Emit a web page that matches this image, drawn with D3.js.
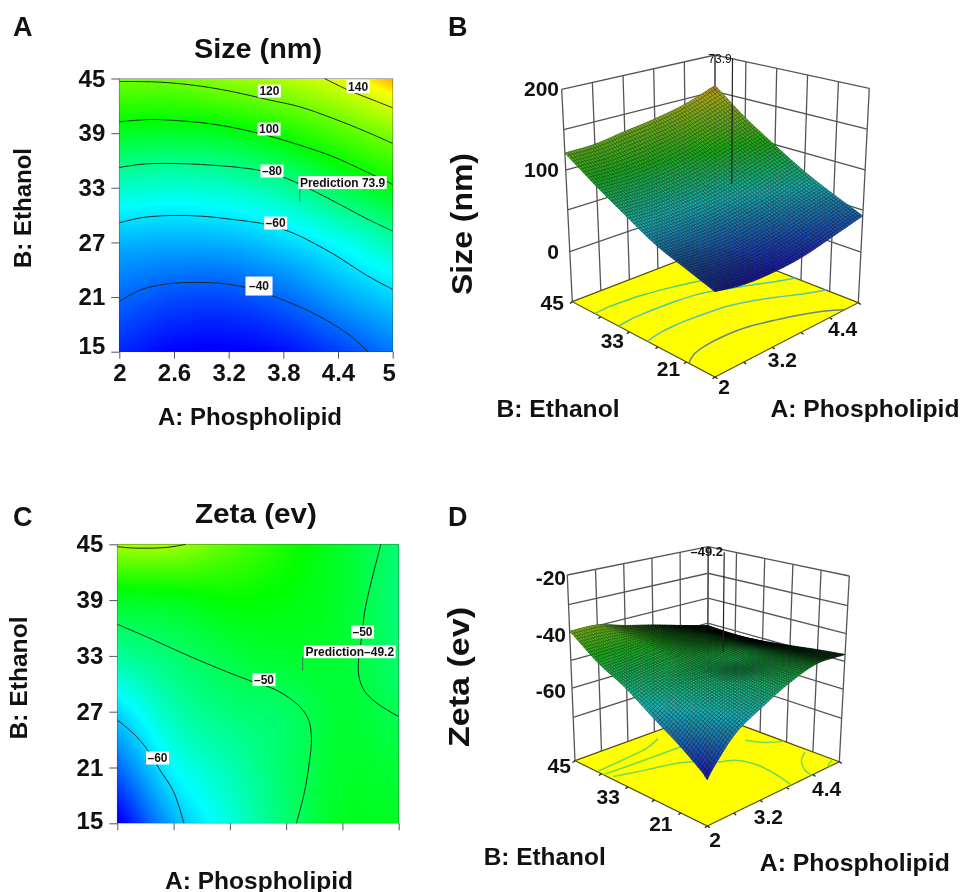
<!DOCTYPE html>
<html><head><meta charset="utf-8">
<style>
html,body{margin:0;padding:0;background:#fff;overflow:hidden}
#wrap{position:relative;width:961px;height:892px}
canvas,svg{position:absolute;left:0;top:0}
text{font-family:"Liberation Sans",Arial,sans-serif;fill:#111}
</style>
<script src="https://cdn.jsdelivr.net/npm/d3@7"></script>
</head><body><div id="wrap"><canvas id="heat" width="961" height="892"></canvas><svg id="chart" width="961" height="892"></svg></div>
<script>
// ---------- data ----------
const phospholipidTicks = [2, 2.6, 3.2, 3.8, 4.4, 5];
const ethanolTicks = [15, 21, 27, 33, 39, 45];
// rows: ethanol ascending, columns: phospholipid ascending
const sizeGrid = [
  [30, 24, 23, 26, 34, 43],
  [41, 36.5, 36, 41, 50, 58],
  [53, 52, 53, 58, 66, 76],
  [72.7, 71, 73, 78.5, 89, 99],
  [95, 94, 96.5, 103.5, 114, 125],
  [121, 122, 128, 134, 143, 158]
];
const zetaGrid = [
  [-71, -61.5, -56, -51, -47.5, -47.5],
  [-65, -57.5, -54, -50.6, -48, -48.5],
  [-59.5, -54, -51.5, -50.4, -48.3, -49.8],
  [-53, -51, -49, -48, -48.3, -51],
  [-47.5, -47, -46, -46.5, -48, -51.5],
  [-39.5, -39.7, -42.5, -45, -48, -51]
];
const sizeContours = [
  {level: 40, pts: [[2,20.49],[2.227,21.77],[2.52,22.43],[2.85,22.61],[3.18,22.43],[3.47,21.84],[3.8,20.67],[4.17,19.02],[4.5,17.01],[4.73,15]]},
  {level: 60, pts: [[2,29.16],[2.26,29.74],[2.59,29.96],[2.89,29.89],[3.18,29.6],[3.6,29.01],[3.84,28.28],[3.98,27.7],[4.35,25.72],[4.71,23.41],[5,21.84]]},
  {level: 80, pts: [[2,35.23],[2.26,35.6],[2.59,35.67],[2.89,35.56],[3.25,35.3],[3.56,34.87],[3.79,34.2],[3.98,33.4],[4.35,31.54],[4.71,29.63],[5,28.24]]},
  {level: 100, pts: [[2,40.24],[2.34,40.5],[2.67,40.35],[3.03,39.99],[3.54,38.96],[3.98,37.68],[4.35,36.4],[4.71,34.76],[5,33.37]]},
  {level: 120, pts: [[2,44.67],[2.45,44.6],[2.89,44.16],[3.25,43.54],[3.62,42.7],[3.98,41.89],[4.35,40.6],[4.71,39.15],[5,37.87]]},
  {level: 140, pts: [[4.25,45],[4.53,43.65],[4.79,42.62],[5,41.78]]}
];
const zetaContours = [
  {level: -50, pts: [[2,36.4],[2.348,34.89],[2.74,33.1],[3.166,31.3],[3.45,30.2],[3.7,29.3],[3.95,27.5],[4.04,26.1],[4.07,24.1],[4.05,21.8],[4,18.58],[3.91,15]]},
  {level: -50, pts: [[4.81,45],[4.73,41.88],[4.64,37.94],[4.61,35.43],[4.57,32.2],[4.58,30.59],[4.64,29.16],[4.77,27.9],[5,26.47]]},
  {level: -60, pts: [[2,26.1],[2.17,24.68],[2.31,23.06],[2.455,20.73],[2.6,18.4],[2.71,15]]},
  {level: -40, pts: [[2,44.75],[2.17,44.6],[2.53,44.67],[2.73,45]]}
];
// the floor of the 3-D panels, as seen in the picture
const sizeFloorContours = sizeContours.filter(c => c.level <= 100);
const zetaFloorContours = [
  {pts: [[2.02,40],[2.64,40.5],[3.25,41.2],[3.66,42.75]]},
  {pts: [[2,38.6],[2.72,38.25],[3.31,38.07],[3.71,37.95]]},
  {pts: [[2.08,37.1],[2.66,35.4],[3.2,33.9],[3.43,32.5]]},
  {pts: [[3.7,29.6],[3.95,28.2],[4.04,26.1],[4.07,24.1],[4.05,21.8],[4,18.58],[3.91,15]]},
  {pts: [[4.91,21.9],[4.66,20.2],[4.43,17.1],[4.37,15]]},
  {pts: [[4.96,16.3],[4.79,15.4],[4.8,15]]},
  {pts: [[4.61,32.5],[4.78,29.25],[5,27.6]]}
];
const sizeLabels = [["120",3.647,43.62],["100",3.643,39.45],["\u201380",3.676,34.84],["\u201360",3.715,29.13],["\u201340",3.533,22.21],["140",4.62,44.11],["Prediction 73.9",4.45,33.57]];
const zetaLabels = [["\u201350",3.564,30.46],["\u201350",4.614,35.57],["Prediction\u201349.2",4.478,33.45],["\u201360",2.429,22.02]];
const sizePrediction = {a: 3.98, b: 31.46, value: 73.9, text: "73.9"};
const zetaPrediction = {a: 3.976, b: 31.38, value: -49.2, text: "\u201349.2"};
const sizeZLevels = [-50, 0, 50, 100, 150, 200];
const zetaZLevels = [-80, -70, -60, -50, -40, -30, -20];
const sizeZLabels = [200, 100, 0];
const zetaZLabels = [-20, -40, -60];
const phospholipid3DLabels = [2, 3.2, 4.4];
const ethanol3DLabels = [21, 33, 45];

// ---------- shared helpers ----------
const svg = d3.select("#chart");
const ctx = document.getElementById("heat").getContext("2d");
function cubic(p0,p1,p2,p3,t){
  return p1+0.5*t*(p2-p0+t*(2*p0-5*p1+4*p2-p3+t*(3*(p1-p2)+p3-p0)));
}
function fieldAt(grid,a,b){
  const n=grid.length-1, fx=Math.max(0,Math.min(n,(a-2)/0.6)), fy=Math.max(0,Math.min(n,(b-15)/6));
  const ix=Math.min(n-1,Math.floor(fx)), iy=Math.min(n-1,Math.floor(fy)), tx=fx-ix, ty=fy-iy;
  const at=(r,c)=>{
    const R=Math.max(0,Math.min(n,r)),C=Math.max(0,Math.min(n,c));
    let v=grid[R][C];
    if(r<0) v=2*grid[0][C]-grid[1][C];
    if(r>n) v=2*grid[n][C]-grid[n-1][C];
    if(c<0) v+=grid[R][0]-grid[R][1];
    if(c>n) v+=grid[R][n]-grid[R][n-1];
    return v;
  };
  const col=[-1,0,1,2].map(d=>cubic(at(iy+d,ix-1),at(iy+d,ix),at(iy+d,ix+1),at(iy+d,ix+2),tx));
  return cubic(col[0],col[1],col[2],col[3],ty);
}
function addText(g,str,x,y,size,o={}){
  const t=g.append("text").attr("x",x).attr("y",y).text(str)
    .attr("font-size",size).attr("font-weight",o.weight||"bold").attr("text-anchor",o.anchor||"middle");
  if(o.len) t.attr("textLength",o.len).attr("lengthAdjust","spacingAndGlyphs");
  if(o.rotate) t.attr("transform",`rotate(${o.rotate} ${x} ${y})`);
  return t;
}
const paletteColors=["#0000ff","#00ffff","#00ff00","#ffff00","#ff0000"];
function palette(stops){return d3.scaleLinear().domain(stops).range(paletteColors).clamp(true);}

// ---------- 2-D contour panels ----------
function contourPanel(c){
  const g=svg.append("g");
  const x=d3.scaleLinear().domain([2,5]).range([c.x0,c.x1]);
  const y=d3.scaleLinear().domain([15,45]).range([c.y1,c.y0]);
  const col=palette(c.stops);
  for(let py=Math.round(c.y0);py<Math.round(c.y1);py++){
    for(let px=Math.round(c.x0);px<Math.round(c.x1);px++){
      ctx.fillStyle=col(fieldAt(c.grid,x.invert(px+.5),y.invert(py+.5)));
      ctx.fillRect(px,py,1,1);
    }
  }
  const line=d3.line().x(d=>x(d[0])).y(d=>y(d[1])).curve(d3.curveCatmullRom.alpha(.5));
  g.selectAll("path.contour").data(c.contours).join("path").attr("class","contour")
    .attr("d",d=>line(d.pts)).attr("fill","none").attr("stroke","#1c2a24").attr("stroke-width",1);
  const yAxis=d3.axisLeft(y).tickValues(ethanolTicks).tickSize(8).tickPadding(6);
  const ga=g.append("g").attr("transform",`translate(${c.x0},0)`).call(yAxis);
  const xAxis=d3.axisBottom(x).tickValues(phospholipidTicks).tickSize(7).tickPadding(5)
    .tickFormat(c.xLabels?d3.format("~g"):"");
  const gb=g.append("g").attr("transform",`translate(0,${c.y1})`).call(xAxis);
  [ga,gb].forEach(s=>{s.select(".domain").remove();
    s.selectAll("line").attr("stroke","#555").attr("stroke-width",1);
    s.selectAll("text").attr("font-size",24).attr("font-weight","bold").attr("font-family",'"Liberation Sans",Arial,sans-serif').attr("fill","#111");});
  ga.selectAll("g.tick").filter(d=>d===15).select("text").attr("dy",c.dy15);
  gb.selectAll("g.tick").filter(d=>d===5).select("text").attr("dx",-4);
  g.append("rect").attr("x",c.x0).attr("y",c.y0).attr("width",c.x1-c.x0).attr("height",c.y1-c.y0)
    .attr("fill","none").attr("stroke","#2a3a2a").attr("stroke-opacity",.45).attr("stroke-width",.8);
  // prediction flag
  g.append("line").attr("x1",x(c.pred.a)).attr("x2",x(c.pred.a)).attr("y1",y(c.pred.b)).attr("y2",y(c.pred.b)-14)
    .attr("stroke","#556").attr("stroke-width",.8);
  // contour labels
  c.labels.forEach(l=>{
    const lg=g.append("g");
    const tall=l[0]===c.tallLabel;
    const t=addText(lg,l[0],x(l[1]),y(l[2])+4.2,12);
    const w=t.node().getComputedTextLength()+(tall?7:3), h=tall?19:13;
    lg.insert("rect","text").attr("x",x(l[1])-w/2).attr("y",y(l[2])-h/2).attr("width",w).attr("height",h).attr("fill","#fff");
  });
  addText(g,c.letter,c.letterX,c.letterY,27,{anchor:"start"});
  addText(g,c.title,c.titleX,c.titleY,28,{len:c.titleLen});
  addText(g,"A: Phospholipid",c.xlX,c.xlY,24,{len:c.xlLen});
  addText(g,"B: Ethanol",c.ylX,c.ylY,24,{len:c.ylLen,rotate:-90});
}

// ---------- 3-D surface panels ----------
function surfacePanel(c){
  const g=svg.append("g");
  const uS=d3.scaleLinear().domain([2,5]).range([0,1]);
  const vS=d3.scaleLinear().domain([15,45]).range([0,1]);
  const wS=d3.scaleLinear().domain(c.zLevels).range(c.wStops);
  const lerp=(p,q,t)=>[p[0]+(q[0]-p[0])*t,p[1]+(q[1]-p[1])*t];
  const proj=(a,b,z)=>{
    const u=uS(a),v=vS(b),w=wS(z);
    const bot=lerp(lerp(c.F0,c.R0,u),lerp(c.L0,c.B0,u),v);
    const top=lerp(lerp(c.F1,c.R1,u),lerp(c.L1,c.B1,u),v);
    return lerp(bot,top,w);
  };
  const zMin=c.zLevels[0], zMax=c.zLevels[c.zLevels.length-1];
  const wallLine=d3.line();
  const wall=g.append("g").attr("fill","none").attr("stroke","#555").attr("stroke-width",1.3);
  const floorPts=[proj(2,15,zMin),proj(5,15,zMin),proj(5,45,zMin),proj(2,45,zMin)];
  phospholipidTicks.forEach(a=>wall.append("path").attr("d",wallLine([proj(a,45,zMin),proj(a,45,zMax)])));
  ethanolTicks.forEach(b=>wall.append("path").attr("d",wallLine([proj(5,b,zMin),proj(5,b,zMax)])));
  c.zLevels.slice(1).forEach(z=>{
    wall.append("path").attr("d",wallLine([proj(2,45,z),proj(5,45,z),proj(5,15,z)]));
  });
  g.append("path").attr("d",wallLine(floorPts)+"Z").attr("fill","#ffff00").attr("stroke","#50500a").attr("stroke-width",1.2);
  const curve=d3.line().x(d=>proj(d[0],d[1],zMin)[0]).y(d=>proj(d[0],d[1],zMin)[1]).curve(d3.curveCatmullRom.alpha(.5));
  g.selectAll("path.fl").data(c.contours).join("path").attr("class","fl")
    .attr("d",d=>curve(d.pts)).attr("fill","none").attr("stroke",(d,i)=>c.floorColors[i%c.floorColors.length]).attr("stroke-width",1.5);
  phospholipidTicks.forEach(a=>{const p=proj(a,15,zMin);g.append("line").attr("x1",p[0]).attr("y1",p[1]).attr("x2",p[0]+2.5).attr("y2",p[1]+1.8).attr("stroke","#222").attr("stroke-width",1.3);});
  ethanolTicks.forEach(b=>{const p=proj(2,b,zMin);g.append("line").attr("x1",p[0]).attr("y1",p[1]).attr("x2",p[0]-2.5).attr("y2",p[1]+1.8).attr("stroke","#222").attr("stroke-width",1.3);});
  // surface, back to front
  const col=palette(c.stops);
  const N=c.mesh, cells=[];
  const aAt=d3.scaleLinear().domain([0,N]).range([2,5]), bAt=d3.scaleLinear().domain([0,N]).range([15,45]);
  const L=Math.hypot(1,1,c.lz);
  for(let i=N-1;i>=0;i--)for(let j=N-1;j>=0;j--){
    const a=aAt(i+.5),b=bAt(j+.5),e=.03,f=.3;
    const z=fieldAt(c.grid,a,b);
    const dU=(wS(fieldAt(c.grid,Math.min(5,a+e),b))-wS(fieldAt(c.grid,Math.max(2,a-e),b)))/(2*e/3);
    const dV=(wS(fieldAt(c.grid,a,Math.min(45,b+f)))-wS(fieldAt(c.grid,a,Math.max(15,b-f))))/(2*f/30);
    const nx=-dU*c.H, ny=-dV*c.H;
    const nl=(-nx-ny+c.lz)/Math.hypot(nx,ny,1)/L;
    const s=Math.max(.02,Math.min(c.sMax,c.sA+c.sB*nl));
    const base=d3.rgb(col(z)), lift=c.lift*s/c.sMax;
    const fill=d3.rgb(base.r*s+lift,base.g*s+lift,base.b*s+lift);
    cells.push({i,j,fill});
  }
  const quad=d=>{
    const p=[[d.i,d.j],[d.i+1,d.j],[d.i+1,d.j+1],[d.i,d.j+1]].map(q=>{
      const a=aAt(q[0]),b=bAt(q[1]);return proj(a,b,fieldAt(c.grid,a,b));});
    return wallLine(p)+"Z";
  };
  g.append("g").selectAll("path").data(cells).join("path").attr("d",quad)
    .attr("fill",d=>d.fill.formatRgb())
    .attr("stroke",d=>d3.rgb(d.fill.r*c.meshDark,d.fill.g*c.meshDark,d.fill.b*c.meshDark).formatRgb())
    .attr("stroke-width",c.meshW);
  // prediction pole
  const pa=proj(c.pred.a,c.pred.b,c.pred.value), pb=proj(c.pred.a,c.pred.b,c.poleTop);
  g.append("line").attr("x1",pa[0]).attr("y1",pa[1]).attr("x2",pb[0]).attr("y2",pb[1]).attr("stroke","#222").attr("stroke-width",1.2);
  addText(g,c.pred.text,c.predX,c.predY,c.predSize,{weight:c.predWeight});
  // labels
  c.zLabels.forEach(z=>addText(g,String(z),c.zLabelX,proj(2,45,z)[1]+c.zLabelDy,21,{anchor:"end"}));
  phospholipid3DLabels.forEach((a,i)=>{const p=proj(a,15,zMin);addText(g,String(a),p[0]+c.aOff[i][0],p[1]+c.aOff[i][1],21);});
  ethanol3DLabels.forEach((b,i)=>{const p=proj(2,b,zMin);addText(g,String(b),p[0]+c.bOff[i][0],p[1]+c.bOff[i][1],21);});
  addText(g,c.letter,c.letterX,c.letterY,27,{anchor:"start"});
  addText(g,c.title,c.titleX,c.titleY,30,{len:c.titleLen,rotate:-90});
  addText(g,"B: Ethanol",c.ylX,c.ylY,24,{len:c.ylLen});
  addText(g,"A: Phospholipid",c.xlX,c.xlY,24,{len:c.xlLen});
}

contourPanel({letter:"A",letterX:13,letterY:36,title:"Size (nm)",titleX:258,titleY:58,titleLen:128,
  x0:119.3,x1:392.7,y0:78.5,y1:351.7,grid:sizeGrid,contours:sizeContours,labels:sizeLabels,pred:sizePrediction,
  stops:[24,65,100,148,178],xLabels:true,dy15:".06em",tallLabel:"\u201340",
  xlX:250,xlY:425,xlLen:184,ylX:30.7,ylY:208,ylLen:120});
contourPanel({letter:"C",letterX:13,letterY:526,title:"Zeta (ev)",titleX:256,titleY:523,titleLen:122,
  x0:117.3,x1:398.7,y0:544.3,y1:823.3,grid:zetaGrid,contours:zetaContours,labels:zetaLabels,pred:zetaPrediction,
  stops:[-70,-57.5,-46,-36,-20],xLabels:false,dy15:".2em",
  xlX:259,xlY:889,xlLen:188,ylX:27.3,ylY:678,ylLen:123});
surfacePanel({letter:"B",letterX:448,letterY:36,title:"Size (nm)",titleX:471.7,titleY:224,titleLen:142,
  L0:[572.3,301.7],R0:[858.3,302.7],F0:[715,377],B0:[715,246.7],L1:[561.7,89.3],R1:[869.3,88.3],F1:[715,135.7],B1:[715,55],
  zLevels:sizeZLevels,wStops:[0,.236,.432,.62,.81,1],grid:sizeGrid,contours:sizeFloorContours,
  floorColors:["#5f8a80","#5cc0b0","#50c8a0","#50d070"],
  stops:[24,65,100,148,178],mesh:60,H:.7,lz:.3,sA:.2,sB:1.0,sMax:.55,lift:28,meshDark:.55,meshW:.7,
  pred:sizePrediction,poleTop:232,predX:720,predY:62.7,predSize:12,predWeight:"normal",
  zLabels:sizeZLabels,zLabelX:559,zLabelDy:7,
  aOff:[[9,17],[10,20],[13,18]],bOff:[[-18,14],[-17,16],[-20,8]],
  ylX:558,ylY:417,ylLen:123,xlX:865,xlY:417,xlLen:189});
surfacePanel({letter:"D",letterX:448,letterY:526,title:"Zeta (ev)",titleX:469,titleY:677,titleLen:140,
  L0:[575,760.7],R0:[839.3,761.7],F0:[707.3,826],B0:[707.3,712.7],L1:[567.3,575],R1:[849.3,576],F1:[707.3,606],B1:[708.3,546.7],
  zLevels:zetaZLevels,wStops:[0,.233,.391,.54,.69,.84,1],grid:zetaGrid,contours:zetaFloorContours,
  floorColors:["#6fdc50"],
  stops:[-70,-57.5,-46,-36,-20],mesh:60,H:.7,lz:.3,sA:-.1,sB:1.8,sMax:.58,lift:28,meshDark:.55,meshW:.7,
  pred:zetaPrediction,poleTop:-14,predX:706.7,predY:555.7,predSize:13,predWeight:"bold",
  zLabels:zetaZLabels,zLabelX:566,zLabelDy:9.5,
  aOff:[[7.7,20.7],[8.3,23.7],[13.7,21]],bOff:[[-20,17.7],[-19.7,17],[-15.7,12]],
  ylX:544.7,ylY:865,ylLen:122,xlX:854.8,xlY:870.7,xlLen:190});
</script></body></html>
